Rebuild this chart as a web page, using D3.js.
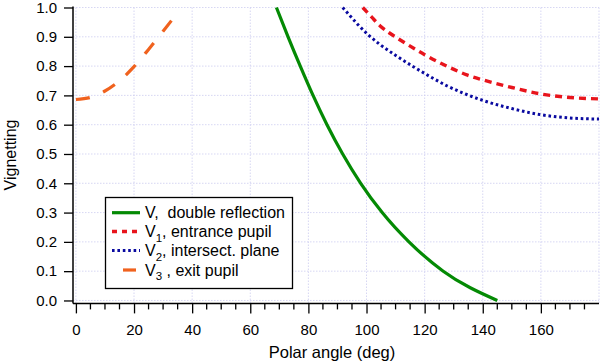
<!DOCTYPE html>
<html>
<head>
<meta charset="utf-8">
<script src="https://cdn.jsdelivr.net/npm/d3@7"></script>
<style>
  html, body { margin: 0; padding: 0; background: #fff; }
  svg { display: block; font-family: "Liberation Sans", Arial, Helvetica, sans-serif; }
</style>
</head>
<body>
<svg id="chart" width="600" height="362"></svg>
<script>
// ---- data ----
const xTicks = [0, 20, 40, 60, 80, 100, 120, 140, 160];
const yTicks = [0.0, 0.1, 0.2, 0.3, 0.4, 0.5, 0.6, 0.7, 0.8, 0.9, 1.0];

// V : double reflection
const vAngle = [69, 73, 77.2, 81.6, 86.4, 91.8, 98, 105.4, 114.6, 126.4, 145];
const vValue = [1.0, 0.9, 0.8, 0.7, 0.6, 0.5, 0.4, 0.3, 0.2, 0.1, 0.0];

// V1 : entrance pupil
const v1Angle = [98.7, 101.8, 104.6, 107.9, 111, 120, 127, 134.5, 140, 150, 160, 170, 180];
const v1Value = [1.0, 0.967, 0.938, 0.913, 0.893, 0.839, 0.803, 0.77, 0.753, 0.727, 0.705, 0.693, 0.688];

// V2 : intersect. plane
const v2Angle = [91.8, 94.3, 97.2, 100.8, 104.6, 110.4, 116.1, 121.9, 127.6, 134.5, 140, 150, 160, 170, 180];
const v2Value = [1.0, 0.972, 0.94, 0.905, 0.874, 0.834, 0.798, 0.764, 0.733, 0.703, 0.683, 0.655, 0.634, 0.623, 0.619];

// V3 : exit pupil
const v3Angle = [0, 5, 10, 15, 20, 25, 30, 33.8];
const v3Value = [0.686, 0.693, 0.715, 0.75, 0.798, 0.857, 0.919, 0.967];

const seriesNames = ["V", "V1", "V2", "V3"];

// ---- drawing ----
const svg = d3.select("#chart");
const x = d3.scaleLinear().domain([-1, 180]).range([73, 599]);
const y = d3.scaleLinear().domain([-0.01, 1.0]).range([303.4, 7.5]);

svg.append("defs").append("clipPath").attr("id", "plotclip")
  .append("rect").attr("x", 73).attr("y", 5).attr("width", 530).attr("height", 300);

// grid
const grid = svg.append("g").attr("stroke", "#cdcdf0").attr("stroke-width", 0.8)
  .attr("stroke-dasharray", "1.5,1.5");
grid.selectAll("line.v").data(xTicks.concat([180])).enter().append("line")
  .attr("x1", d => x(d)).attr("x2", d => x(d)).attr("y1", y(1.0)).attr("y2", y(-0.01));
grid.selectAll("line.h").data(yTicks).enter().append("line")
  .attr("x1", x(-1)).attr("x2", x(180)).attr("y1", d => y(d)).attr("y2", d => y(d));

// axes
const xAxis = d3.axisBottom(x).tickValues(xTicks).tickSize(10).tickPadding(11)
  .tickFormat(d3.format("d"));
const gx = svg.append("g").attr("transform", `translate(0,${y(-0.01)})`).call(xAxis);
const minor = d3.range(0, 181, 5).filter(d => d % 20 !== 0);
gx.selectAll("line.minor").data(minor).enter().append("line")
  .attr("class", "minor").attr("x1", d => x(d)).attr("x2", d => x(d))
  .attr("y1", 0).attr("y2", 6).attr("stroke", "#000").attr("stroke-width", 1.3);

const yAxis = d3.axisLeft(y).tickValues(yTicks).tickSize(9).tickPadding(7)
  .tickFormat(d3.format(".1f"));
const gy = svg.append("g").attr("transform", `translate(${x(-1)},0)`).call(yAxis);

[gx, gy].forEach(g => {
  g.select(".domain").attr("stroke", "#000").attr("stroke-width", 1.5);
  g.selectAll(".tick line").attr("stroke", "#000").attr("stroke-width", 1.3);
  g.selectAll("text").attr("fill", "#000").style("font-size", "15px")
    .style("font-family", '"Liberation Sans", Arial, sans-serif');
});
gx.select(".domain").attr("d", `M${x(-1)},0H${x(180)}`);
gy.select(".domain").attr("d", `M0,${y(-0.01)}V${y(1.0) - 1}`);

// axis titles
svg.append("text").attr("x", 332).attr("y", 358).attr("text-anchor", "middle")
  .style("font-size", "16.5px").attr("fill", "#000").text("Polar angle (deg)");
svg.append("text").attr("transform", "translate(16,155) rotate(-90)")
  .attr("text-anchor", "middle").style("font-size", "16px").attr("fill", "#000").text("Vignetting");

// series
const line = d3.line().x(d => x(d[0])).y(d => y(d[1])).curve(d3.curveMonotoneX);
const zip = (a, b) => a.map((v, i) => [v, b[i]]);
const styles = {
  V:  { color: "#048a04", width: 3.2, dash: null },
  V1: { color: "#e8141c", width: 3.4, dash: "7,5" },
  V2: { color: "#0a0aa0", width: 3.0, dash: "2.6,2.8" },
  V3: { color: "#f0621e", width: 3.2, dash: "14,14.5" }
};
const seriesData = {
  V: zip(vAngle, vValue),
  V1: zip(v1Angle, v1Value),
  V2: zip(v2Angle, v2Value),
  V3: zip(v3Angle, v3Value)
};
const plot = svg.append("g").attr("clip-path", "url(#plotclip)");
seriesNames.forEach(n => {
  plot.append("path").datum(seriesData[n]).attr("d", line)
    .attr("fill", "none").attr("stroke", styles[n].color)
    .attr("stroke-width", styles[n].width)
    .attr("stroke-dasharray", styles[n].dash);
});

// legend
const lg = svg.append("g");
lg.append("rect").attr("x", 105.5).attr("y", 197.5).attr("width", 187).attr("height", 91)
  .attr("fill", "#fff").attr("stroke", "#000").attr("stroke-width", 1.3);
const rowsY = [212.7, 231.5, 250.5, 270];
const legendLabels = [
  { main: "V", sub: "", rest: ",  double reflection" },
  { main: "V", sub: "1", rest: ", entrance pupil" },
  { main: "V", sub: "2", rest: ", intersect. plane" },
  { main: "V", sub: "3", rest: " , exit pupil" }
];
seriesNames.forEach((n, i) => {
  const s = styles[n];
  const ln = lg.append("line").attr("x1", 112).attr("x2", 140)
    .attr("y1", rowsY[i]).attr("y2", rowsY[i])
    .attr("stroke", s.color).attr("stroke-width", s.width);
  if (n === "V1") ln.attr("stroke-dasharray", "5,5");
  if (n === "V2") ln.attr("stroke-dasharray", "2.6,2.8");
  if (n === "V3") ln.attr("stroke-dasharray", "13,15").attr("stroke-dashoffset", 17);
  const t = lg.append("text").attr("x", 145).attr("y", rowsY[i] + 5.5)
    .style("font-size", "16px").attr("fill", "#000");
  const L = legendLabels[i];
  t.append("tspan").text(L.main);
  if (L.sub) t.append("tspan").attr("dy", 4.5).style("font-size", "11.5px").text(L.sub);
  t.append("tspan").attr("dy", L.sub ? -4.5 : 0).style("white-space", "pre").text(L.rest);
});
lg.selectAll("text").attr("xml:space", "preserve");
</script>
</body>
</html>
